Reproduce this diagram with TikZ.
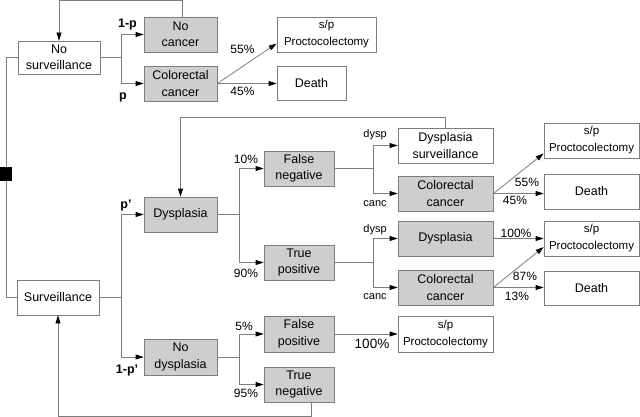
\documentclass[tikz,border=0pt]{standalone}
\usepackage{fontspec}
\setmainfont{Liberation Sans}
\usetikzlibrary{arrows.meta}
\definecolor{linegray}{RGB}{125,125,125}
\definecolor{boxgray}{RGB}{206,206,206}

\begin{document}
\begin{tikzpicture}[x=1pt,y=-1pt,
    box/.style={draw=linegray,line width=0.8pt,fill=white,align=center,inner sep=0pt,
      minimum height=35pt,font=\fontsize{12.5}{16.5}\selectfont},
    shaded/.style={box,fill=boxgray},
    spbox/.style={box,minimum width=95pt,font=\fontsize{11.5}{17}\selectfont},
    line/.style={draw=linegray,line width=0.8pt},
    arr/.style={line,-{Triangle[length=8pt,width=5pt,color=black]}},
    pct/.style={font=\fontsize{12}{12}\selectfont,inner sep=0pt},
    prob/.style={font=\bfseries\fontsize{12.5}{12.5}\selectfont,inner sep=0pt},
    small/.style={font=\fontsize{11}{11}\selectfont,inner sep=0pt}]
                \useasboundingbox (0,0) rectangle (640,417);
                % decision node and the two strategies
                \node[fill=black,minimum width=12pt,minimum height=14pt,inner sep=0pt] (dec) at (6,174) {};
                \node[box,minimum width=82pt,minimum height=33pt] (nosurv) at (59,57.5) {No\\surveillance};
                \node[box,minimum width=82pt] (surv) at (58,297.5) {Surveillance};
                \draw[line] (dec.north) |- (nosurv.west);
                \draw[line] (dec.south) |- (surv.west);
                % no surveillance branch
                \node[shaded,minimum width=73pt] (nocancer) at (180.5,34.5) {No\\cancer};
                \node[shaded,minimum width=73pt] (cc1) at (180.5,83.5) {Colorectal\\cancer};
                \node[spbox,minimum width=99pt] (sp1) at (326.5,34.5) {s/p\\Proctocolectomy};
                \node[box,minimum width=69pt,minimum height=34pt] (death1) at (311.5,83) {Death};
                \coordinate (s1) at (121,57.5);
                \draw[line] (nosurv.east) -- (s1);
                \draw[arr] (s1) |- (nocancer.west);
                \draw[arr] (s1) |- (cc1.west);
                \draw[arr] (cc1.east) -- ([yshift=-9pt]sp1.west);
                \draw[arr] (cc1.east) -- (cc1.east -| death1.west);
                \draw[arr] ([xshift=1.5pt]nocancer.north) -- ++(0,-16) -| (nosurv.north);
                \node[prob] at (127.5,24) {1-p};
                \node[prob] at (123,97) {p};
                \node[pct] at (242.5,49) {55\%};
                \node[pct] at (242.5,91) {45\%};
                % surveillance branch
                \node[shaded,minimum width=73pt] (dys) at (180.5,214.5) {Dysplasia};
                \node[shaded,minimum width=73pt,minimum height=36pt] (nodys) at (180.5,357) {No\\dysplasia};
                \coordinate (s2) at (121,297.5);
                \draw[line] (surv.east) -- (s2);
                \draw[arr] (s2) |- (dys.west);
                \draw[arr] (s2) |- (nodys.west);
                \node[prob] at (126,205) {p'};
                \node[prob] at (127,370) {1-p'};
                % dysplasia
                \node[shaded,minimum width=70pt] (fneg) at (299,168.5) {False\\negative};
                \node[shaded,minimum width=70pt] (tpos) at (299,262.5) {True\\positive};
                \coordinate (s3) at (239,214.5);
                \draw[line] (dys.east) -- (s3);
                \draw[arr] (s3) |- (fneg.west);
                \draw[arr] (s3) |- (tpos.west);
                \node[pct] at (246,159) {10\%};
                \node[pct] at (246,273) {90\%};
                % no dysplasia
                \node[shaded,minimum width=70pt,minimum height=36pt] (fpos) at (299,334) {False\\positive};
                \node[shaded,minimum width=70pt] (tneg) at (299,384.5) {True\\negative};
                \node[spbox,minimum height=36pt] (sp4) at (445.5,334) {s/p\\Proctocolectomy};
                \coordinate (s4) at (239,357);
                \draw[line] (nodys.east) -- (s4);
                \draw[arr] (s4) |- (fpos.west);
                \draw[arr] (s4) |- (tneg.west);
                \draw[arr] (fpos.east) -- (sp4.west);
                \draw[arr] ([xshift=12pt]tneg.south) -- ++(0,14) -| (surv.south);
                \node[pct] at (244,326) {5\%};
                \node[pct] at (246,393) {95\%};
                \node[pct,font=\fontsize{13.5}{13.5}\selectfont] at (372,344) {100\%};
                % false negative
                \node[box,minimum width=95pt] (dsurv) at (445.5,145.5) {Dysplasia\\surveillance};
                \node[shaded,minimum width=95pt] (cc2) at (445.5,193.5) {Colorectal\\cancer};
                \node[spbox] (sp2) at (591.5,140.5) {s/p\\Proctocolectomy};
                \node[box,minimum width=95pt] (death2) at (591.5,191.5) {Death};
                \coordinate (s5) at (373,168.5);
                \draw[line] (fneg.east) -- (s5);
                \draw[arr] (s5) |- (dsurv.west);
                \draw[arr] (s5) |- (cc2.west);
                \draw[arr] (cc2.east) -- ([yshift=-13pt]sp2.west);
                \draw[arr] (cc2.east) -- (cc2.east -| death2.west);
                \draw[arr] (dsurv.north) -- ++(0,-10) -| (dys.north);
                \node[small] at (375,135) {dysp};
                \node[small] at (375,204) {canc};
                \node[pct] at (527,182) {55\%};
                \node[pct] at (515,200) {45\%};
                % true positive
                \node[shaded,minimum width=95pt] (dys2) at (445.5,238.5) {Dysplasia};
                \node[shaded,minimum width=95pt] (cc3) at (445.5,287.5) {Colorectal\\cancer};
                \node[spbox] (sp3) at (591.5,238.5) {s/p\\Proctocolectomy};
                \node[box,minimum width=95pt,minimum height=34pt] (death3) at (591.5,288) {Death};
                \coordinate (s6) at (373,262.5);
                \draw[line] (tpos.east) -- (s6);
                \draw[arr] (s6) |- (dys2.west);
                \draw[arr] (s6) |- (cc3.west);
                \draw[arr] (dys2.east) -- (sp3.west);
                \draw[arr] (cc3.east) -- ([yshift=-8.5pt]sp3.west);
                \draw[arr] (cc3.east) -- (cc3.east -| death3.west);
                \node[small] at (375,230) {dysp};
                \node[small] at (375,297) {canc};
                \node[pct] at (516,233) {100\%};
                \node[pct] at (525,276) {87\%};
                \node[pct] at (517,296) {13\%};
            \end{tikzpicture}
\end{document}
